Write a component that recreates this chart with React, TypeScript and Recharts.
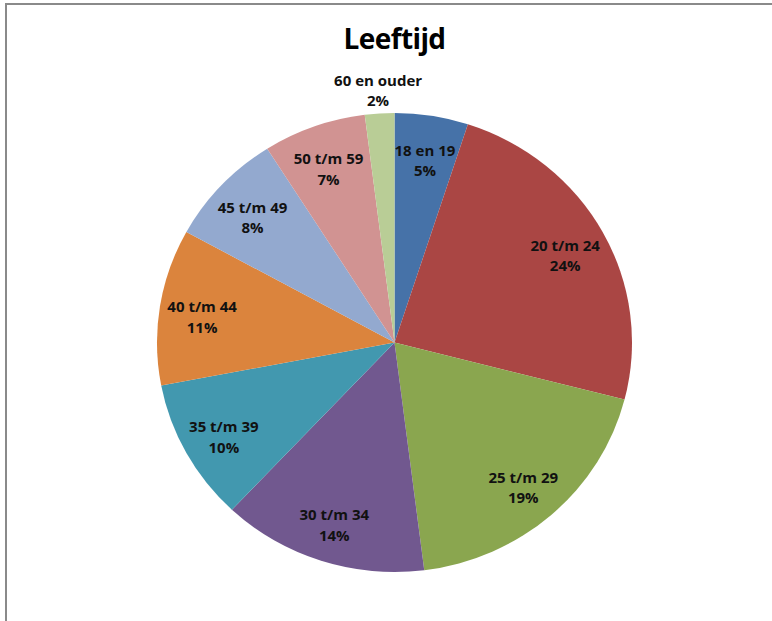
import React from "react";
import { PieChart, Pie, Cell } from "recharts";

const categories = [
  "18 en 19",
  "20 t/m 24",
  "25 t/m 29",
  "30 t/m 34",
  "35 t/m 39",
  "40 t/m 44",
  "45 t/m 49",
  "50 t/m 59",
  "60 en ouder",
];
const values = [5, 24, 19, 14, 10, 11, 8, 7, 2];
const colors = [
  "#4672A8",
  "#AA4644",
  "#8AA64F",
  "#71588F",
  "#4298AF",
  "#DB843D",
  "#93A9CF",
  "#D19392",
  "#B9CD96",
];

const data = categories.map((name, i) => ({ name, value: values[i] }));

const CX = 394.5;
const CY = 342.5;
const R = 229.5;
const SX = 237.5 / 229.5;
const RAD = Math.PI / 180;

const renderLabel = (props: any) => {
  const { cx, cy, midAngle, outerRadius, percent, name } = props;
  const outside = percent < 0.03;
  const r = outside ? outerRadius * 1.1 : outerRadius * 0.82;
  const x = cx + SX * r * Math.cos(-midAngle * RAD);
  const y = cy + r * Math.sin(-midAngle * RAD) + (outside ? 0 : 4);
  const pct = Math.round(percent * 100) + "%";
  return (
    <text
      x={x}
      y={y}
      textAnchor="middle"
      fill="#111"
      fontFamily="'Open Sans', sans-serif"
      fontWeight={700}
      fontSize={15}
    >
      <tspan x={x} y={y - 5}>
        {name}
      </tspan>
      <tspan x={x} y={y + 15.5}>
        {pct}
      </tspan>
    </text>
  );
};

export default function App() {
  return (
    <div
      style={{
        position: "absolute",
        left: 0,
        top: 0,
        width: 772,
        height: 621,
        overflow: "hidden",
        background: "#fff",
      }}
    >
      <style>{`.recharts-pie-sector { transform: scaleX(${SX}); transform-origin: ${CX}px ${CY}px; }`}</style>
      <div
        style={{
          position: "absolute",
          left: 5,
          top: 3,
          width: 900,
          height: 800,
          border: "2px solid #8a8a8a",
          boxSizing: "border-box",
        }}
      />
      <svg
        width={772}
        height={70}
        style={{ position: "absolute", left: 0, top: 0 }}
      >
        <text
          x={394.5}
          y={48.5}
          textAnchor="middle"
          fontFamily="'Open Sans', sans-serif"
          fontWeight={700}
          fontSize={28}
          letterSpacing={-0.6}
          fill="#000"
        >
          Leeftijd
        </text>
      </svg>
      <div style={{ position: "absolute", left: 0, top: 0 }}>
        <PieChart
          width={772}
          height={621}
          margin={{ top: 0, right: 0, bottom: 0, left: 0 }}
        >
          <Pie
            data={data}
            dataKey="value"
            nameKey="name"
            cx={CX}
            cy={CY}
            outerRadius={R}
            startAngle={90}
            endAngle={-270}
            stroke="none"
            label={renderLabel}
            labelLine={false}
            isAnimationActive={false}
          >
            {data.map((d, i) => (
              <Cell key={d.name} fill={colors[i]} />
            ))}
          </Pie>
        </PieChart>
      </div>
    </div>
  );
}
